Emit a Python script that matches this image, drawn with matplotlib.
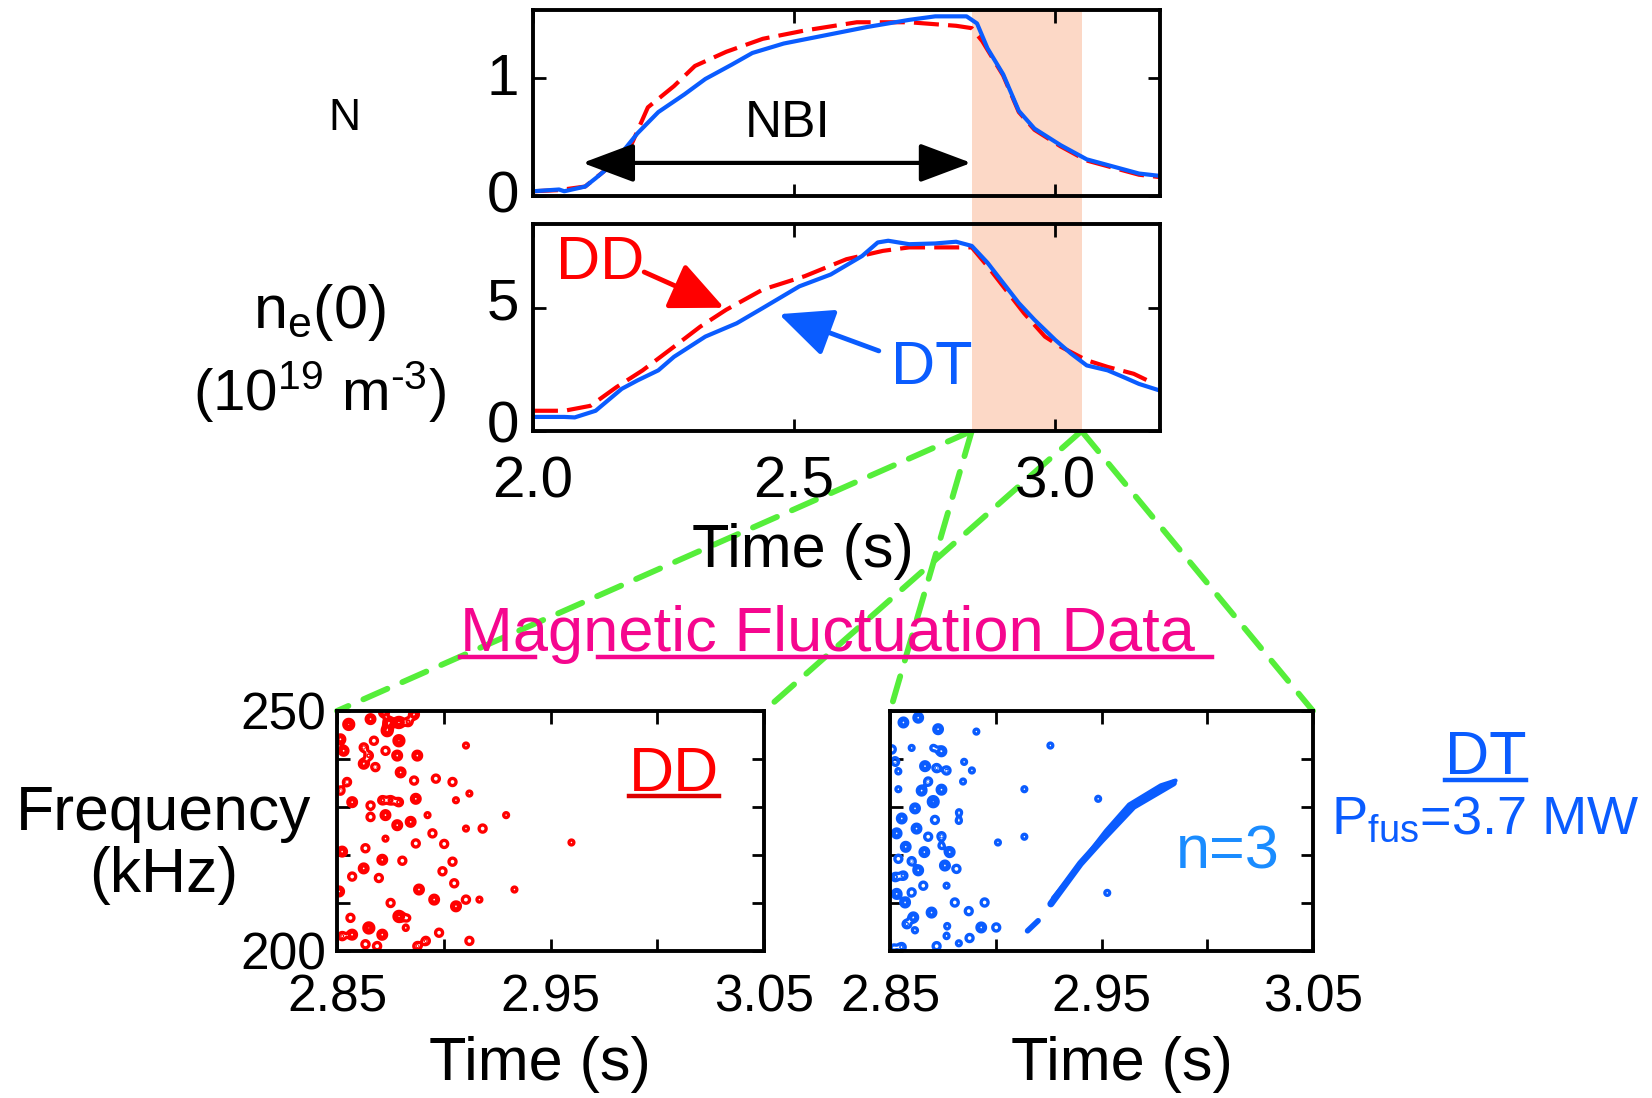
import numpy as np
import matplotlib
matplotlib.use("Agg")
import matplotlib.pyplot as plt
from matplotlib.patches import ConnectionPatch
from matplotlib.lines import Line2D
from matplotlib.transforms import ScaledTranslation

plt.rcParams['font.family'] = ['Liberation Sans', 'DejaVu Sans']
plt.rcParams['mathtext.fontset'] = 'custom'
plt.rcParams['mathtext.rm'] = 'Liberation Sans'
plt.rcParams['mathtext.it'] = 'Liberation Sans'

# ---- time traces ----
t_n_dt = [2.00, 2.05, 2.06, 2.10, 2.12, 2.15, 2.18, 2.20, 2.24, 2.29, 2.33, 2.38, 2.42, 2.48,
          2.56, 2.64, 2.72, 2.77, 2.83, 2.85, 2.87, 2.90, 2.93, 2.96, 3.01, 3.06, 3.11, 3.16, 3.20]
n_dt = [0.04, 0.055, 0.04, 0.08, 0.15, 0.26, 0.42, 0.53, 0.71, 0.86, 0.99, 1.11, 1.21, 1.29,
        1.36, 1.43, 1.49, 1.52, 1.52, 1.46, 1.25, 1.03, 0.72, 0.57, 0.43, 0.31, 0.25, 0.19, 0.17]
t_n_dd = [2.00, 2.05, 2.10, 2.15, 2.19, 2.22, 2.27, 2.31, 2.37, 2.44, 2.52, 2.62, 2.72, 2.81,
          2.84, 2.86, 2.90, 2.93, 2.96, 3.01, 3.06, 3.11, 3.16, 3.20]
n_dd = [0.04, 0.05, 0.08, 0.26, 0.45, 0.75, 0.93, 1.10, 1.22, 1.33, 1.40, 1.47, 1.47, 1.44,
        1.42, 1.31, 1.02, 0.71, 0.56, 0.42, 0.30, 0.24, 0.18, 0.16]

t_ne_dt = [2.00, 2.06, 2.08, 2.12, 2.17, 2.20, 2.24, 2.27, 2.33, 2.39, 2.44, 2.51, 2.57, 2.63,
           2.66, 2.68, 2.72, 2.77, 2.81, 2.84, 2.87, 2.90, 2.93, 2.96, 3.00, 3.03, 3.06, 3.10,
           3.13, 3.16, 3.20]
ne_dt = [0.57, 0.57, 0.55, 0.82, 1.71, 2.05, 2.46, 3.01, 3.83, 4.37, 4.99, 5.87, 6.35, 7.10,
         7.65, 7.72, 7.58, 7.61, 7.68, 7.51, 6.83, 6.01, 5.19, 4.51, 3.69, 3.14, 2.66, 2.46,
         2.19, 1.91, 1.64]
t_ne_dd = [2.00, 2.06, 2.11, 2.16, 2.21, 2.27, 2.32, 2.37, 2.44, 2.52, 2.60, 2.67, 2.72, 2.81,
           2.84, 2.87, 2.90, 2.94, 2.98, 3.01, 3.06, 3.10, 3.15, 3.19]
ne_dd = [0.82, 0.82, 1.02, 1.78, 2.46, 3.42, 4.23, 4.92, 5.74, 6.28, 6.97, 7.31, 7.45, 7.45,
         7.45, 6.69, 5.87, 4.78, 3.83, 3.42, 2.87, 2.60, 2.32, 1.91]

nbi_on, nbi_off = 2.095, 2.839
zoom_t0, zoom_t1 = 2.84, 3.05

# ---- magnetic fluctuation blobs: time (s), frequency (kHz), strength ----
dd_t = [2.8555, 2.8657, 2.8743, 2.8790, 2.8720, 2.8861, 2.8834, 2.8735, 2.8790, 2.8516,
        2.8531, 2.8625, 2.8673, 2.8649, 2.8727, 2.8782, 2.8876, 2.8625, 2.8680, 2.8798,
        2.8861, 2.8963, 2.9041, 2.8547, 2.8516, 2.8571, 2.8657, 2.8712, 2.8751, 2.8790,
        2.8869, 2.8657, 2.8727, 2.8782, 2.8845, 2.8924, 2.8947, 2.9002, 2.9182, 2.9057,
        2.9120, 2.9292, 2.9104, 2.9598, 2.8633, 2.8727, 2.8869, 2.8712, 2.8806, 2.8625,
        2.8571, 2.8696, 2.9041, 2.8994, 2.9049, 2.9057, 2.9104, 2.8884, 2.8955, 2.8751,
        2.8790, 2.8563, 2.8829, 2.8524, 2.8571, 2.8649, 2.8712, 2.8822, 2.8978, 2.8916,
        2.9120, 2.8688, 2.8633, 2.8876, 2.9167, 2.9331, 2.8510, 2.8524, 2.9104]
dd_f = [247.2, 248.3, 247.6, 247.6, 249.7, 249.3, 247.7, 245.9, 243.8, 244.1,
        241.7, 242.4, 243.8, 240.7, 241.7, 240.7, 240.7, 239.0, 238.3, 237.2,
        235.5, 235.9, 235.2, 235.2, 233.4, 231.0, 230.3, 231.4, 231.4, 231.0,
        231.7, 227.9, 228.3, 226.2, 226.9, 228.3, 224.5, 222.3, 225.5, 231.4,
        232.8, 228.3, 225.5, 222.6, 221.4, 223.4, 222.4, 219.0, 218.8, 217.2,
        215.5, 215.2, 218.6, 216.6, 214.1, 209.3, 210.7, 212.8, 210.7, 210.0,
        207.2, 206.9, 206.9, 203.1, 203.4, 204.8, 203.4, 204.8, 203.8, 202.1,
        202.1, 201.0, 201.4, 201.0, 210.7, 212.8, 212.4, 220.7, 242.8]
dd_a = [1.0, 0.75, 1.0, 1.0, 0.75, 0.75, 0.55, 1.0, 1.0, 0.75,
        0.75, 0.55, 0.55, 0.55, 0.55, 0.75, 0.75, 0.75, 0.55, 0.75,
        0.55, 0.55, 0.55, 0.55, 0.55, 0.75, 0.55, 0.55, 0.55, 0.55,
        0.75, 0.55, 0.75, 0.75, 0.75, 0.4, 0.55, 0.55, 0.55, 0.4,
        0.4, 0.4, 0.4, 0.4, 0.55, 0.4, 0.55, 0.75, 0.55, 0.75,
        0.55, 0.55, 0.55, 0.55, 0.55, 0.75, 0.55, 0.75, 0.75, 0.55,
        1.0, 0.55, 0.4, 0.55, 0.75, 1.0, 0.75, 0.4, 0.55, 0.55,
        0.55, 0.55, 0.55, 0.55, 0.4, 0.4, 0.75, 0.75, 0.4]

dt_t = [2.8563, 2.8633, 2.8727, 2.8908, 2.8508, 2.8602, 2.8704, 2.8743, 2.8524, 2.8665,
        2.8720, 2.8767, 2.8850, 2.8887, 2.8539, 2.8845, 2.8680, 2.8649, 2.8743, 2.8539,
        2.8704, 2.8618, 2.8826, 2.8825, 2.8555, 2.8712, 2.8531, 2.8625, 2.8680, 2.8743,
        2.8574, 2.8662, 2.8782, 2.8743, 2.8539, 2.8602, 2.8633, 2.8759, 2.8814, 2.8524,
        2.8563, 2.8657, 2.8767, 2.8531, 2.8602, 2.8571, 2.8806, 2.8947, 2.8696, 2.8610,
        2.8578, 2.8872, 2.8770, 2.8931, 2.9002, 2.8876, 2.8767, 2.8618, 2.8825, 2.8555,
        2.8720, 2.8516, 2.9135, 2.9258, 2.9484, 2.9135, 2.9010, 2.9527]
dt_f = [247.6, 248.6, 246.2, 245.7, 242.0, 242.3, 242.3, 241.6, 239.5, 238.5,
        238.1, 237.6, 239.4, 237.6, 237.4, 235.3, 235.3, 233.4, 233.6, 233.7,
        231.1, 229.7, 228.9, 227.1, 227.6, 227.3, 224.5, 225.5, 223.8, 223.9,
        221.7, 220.6, 220.6, 221.9, 219.2, 218.7, 216.8, 217.8, 217.1, 215.4,
        215.7, 213.6, 213.6, 211.9, 212.2, 210.1, 210.1, 210.1, 208.0, 207.0,
        205.6, 208.3, 205.2, 204.9, 204.9, 202.7, 203.1, 204.3, 201.6, 200.8,
        201.0, 200.7, 233.7, 242.8, 231.7, 223.8, 222.6, 212.1]
dt_a = [0.75, 0.75, 0.75, 0.4, 0.55, 0.4, 0.4, 0.75, 0.55, 0.75,
        0.55, 0.55, 0.4, 0.4, 0.4, 0.4, 0.55, 0.75, 0.75, 0.4,
        1.0, 0.75, 0.4, 0.4, 0.75, 0.55, 0.75, 0.75, 0.55, 0.55,
        0.75, 0.75, 0.75, 0.4, 0.55, 0.55, 0.75, 0.75, 0.55, 0.55,
        0.55, 0.55, 0.4, 0.75, 0.55, 0.75, 0.55, 0.55, 0.75, 0.75,
        0.55, 0.55, 0.4, 0.75, 0.55, 0.55, 0.4, 0.4, 0.4, 0.55,
        0.55, 0.4, 0.4, 0.4, 0.4, 0.4, 0.4, 0.4]

# n=3 chirping mode (two contour strands) and the short piece before it
chirp_t = [2.926, 2.940, 2.950, 2.965, 2.984]
chirp_f = [209.8, 218.2, 223.1, 230.1, 235.0]
chirp2_t = [2.927, 2.938, 2.952, 2.963, 2.978, 2.985]
chirp2_f = [211.0, 217.0, 225.0, 230.5, 234.5, 235.5]
pre_t = [2.915, 2.920]
pre_f = [204.2, 206.3]

RED = '#ff0000'
BLUE = '#0a5cff'
LIGHTBLUE = '#1a8cff'
MAGENTA = '#f5068e'
GREEN = '#55ee3a'
SHADE = '#fcd8c6'


def style_axes(ax, size):
    for s in ax.spines.values():
        s.set_linewidth(2.8)
    ax.tick_params(which='both', direction='in', top=True, right=True,
                   length=9, width=2, labelsize=size)


def lift_yticklabels(ax, points):
    for lab in ax.get_yticklabels():
        lab.set_transform(lab.get_transform() + ScaledTranslation(0, points / 72, fig.dpi_scale_trans))


def blob_field(tt, ff, amp):
    tg = np.linspace(2.85, 3.05, 900)
    fg = np.linspace(200, 250, 450)
    T, F = np.meshgrid(tg, fg)
    Z = np.zeros_like(T)
    for t0, f0, a in zip(tt, ff, amp):
        Z += a * np.exp(-((T - t0) / 0.0021) ** 2 - ((F - f0) / 0.95) ** 2)
    return T, F, Z


fig = plt.figure(figsize=(16.52, 10.98), dpi=100)
ax_n = fig.add_axes([0.3226, 0.8215, 0.3795, 0.169])
ax_ne = fig.add_axes([0.3226, 0.6075, 0.3795, 0.1885])
ax_dd = fig.add_axes([0.204, 0.1339, 0.2585, 0.2186])
ax_dt = fig.add_axes([0.5388, 0.1339, 0.256, 0.2186])

# ---- neutron rate ----
ax_n.axvspan(zoom_t0, zoom_t1, ymin=-0.16, ymax=1, color=SHADE, lw=0, zorder=0, clip_on=False)
ax_n.plot(t_n_dd, n_dd, color=RED, lw=3, dashes=(6, 2.2))
ax_n.plot(t_n_dt, n_dt, color=BLUE, lw=3)
ax_n.annotate('', xy=(nbi_off, 0.28), xytext=(nbi_on, 0.28),
              arrowprops=dict(arrowstyle='<|-|>,head_length=0.8,head_width=0.3',
                              mutation_scale=40, lw=3, color='k', shrinkA=0, shrinkB=0))
ax_n.text(2.487, 0.61, 'NBI', fontsize=37, ha='center', va='center')
ax_n.set_xlim(2.0, 3.2)
ax_n.set_ylim(0, 1.57)
ax_n.set_xticks([2.0, 2.5, 3.0])
ax_n.set_xticklabels([])
ax_n.set_yticks([0, 1])
style_axes(ax_n, 42)
ax_n.tick_params(axis='y', pad=10)
lift_yticklabels(ax_n, 3)

# ---- central density ----
ax_ne.axvspan(zoom_t0, zoom_t1, color=SHADE, lw=0, zorder=0)
ax_ne.plot(t_ne_dd, ne_dd, color=RED, lw=3, dashes=(6, 2.2))
ax_ne.plot(t_ne_dt, ne_dt, color=BLUE, lw=3)
ax_ne.text(2.129, 6.8, 'DD', color=RED, fontsize=44, ha='center', va='center')
ax_ne.annotate('', xy=(2.366, 5.0), xytext=(2.213, 6.45),
               arrowprops=dict(arrowstyle='-|>,head_length=1.1,head_width=0.5',
                               mutation_scale=30, lw=3.5, color=RED, shrinkA=0, shrinkB=0))
ax_ne.text(2.763, 2.52, 'DT', color=BLUE, fontsize=44, ha='center', va='center')
ax_ne.annotate('', xy=(2.471, 4.74), xytext=(2.662, 3.25),
               arrowprops=dict(arrowstyle='-|>,head_length=1.1,head_width=0.5',
                               mutation_scale=30, lw=3.5, color=BLUE, shrinkA=0, shrinkB=0))
ax_ne.set_xlim(2.0, 3.2)
ax_ne.set_ylim(0, 8.4)
ax_ne.set_xticks([2.0, 2.5, 3.0])
ax_ne.set_xticklabels(['2.0', '2.5', '3.0'])
ax_ne.set_yticks([0, 5])
style_axes(ax_ne, 42)
ax_ne.tick_params(axis='y', pad=10)
ax_ne.tick_params(axis='x', pad=18)
lift_yticklabels(ax_ne, 7)
ax_ne.set_xlabel('Time (s)', fontsize=44)
ax_ne.xaxis.set_label_coords(0.43, -0.445, transform=ax_ne.transAxes)

fig.text(0.2085, 0.8925, 'N', fontsize=32, ha='center', va='center')
fig.text(0.1933, 0.715, r'n$_{\rm e}$(0)', fontsize=44, ha='center', va='center')
fig.text(0.1933, 0.643, '(10$^{\\rm 19}$ m$^{\\rm \u20103}$)', fontsize=42,
         ha='center', va='center')

# ---- fluctuation spectrograms ----
levels = [0.3, 0.55, 0.8]
T, F, Z = blob_field(dd_t, dd_f, dd_a)
ax_dd.contour(T, F, Z, levels=levels, colors=RED, linewidths=2.4)
T, F, Z = blob_field(dt_t, dt_f, dt_a)
ax_dt.contour(T, F, Z, levels=levels, colors=BLUE, linewidths=2.4)
ax_dt.plot(chirp_t, chirp_f, color=BLUE, lw=5, solid_capstyle='round')
ax_dt.plot(chirp2_t, chirp2_f, color=BLUE, lw=3, solid_capstyle='round')
ax_dt.plot(pre_t, pre_f, color=BLUE, lw=4, solid_capstyle='round')

for ax in (ax_dd, ax_dt):
    ax.set_xlim(2.85, 3.05)
    ax.set_ylim(200, 250)
    ax.set_xticks([2.85, 2.95, 3.05])
    ax.set_xticklabels(['2.85', '2.95', '3.05'])
    ax.set_xticks([2.90, 3.00], minor=True)
    ax.set_yticks([200, 250])
    ax.set_yticks([210, 220, 230, 240], minor=True)
    style_axes(ax, 37)
    ax.tick_params(axis='x', which='both', pad=16)
    ax.tick_params(axis='y', which='both', pad=8)
    ax.set_xlabel('Time (s)', fontsize=44)
ax_dd.xaxis.set_label_coords(0.474, -0.355, transform=ax_dd.transAxes)
ax_dt.xaxis.set_label_coords(0.549, -0.355, transform=ax_dt.transAxes)
ax_dt.set_yticklabels([])

t_dd = ax_dd.text(3.008, 236.8, 'DD', color=RED, fontsize=45, ha='center', va='center')
ax_dt.text(3.0096, 220.4, 'n=3', color=LIGHTBLUE, fontsize=44, ha='center', va='center')
t_dt = fig.text(0.8993, 0.309, 'DT', color=BLUE, fontsize=44, ha='center', va='center')
fig.text(0.8993, 0.2535, r'P$_{\rm fus}$=3.7 MW', color=BLUE, fontsize=39, ha='center', va='center')
fig.text(0.0989, 0.231, 'Frequency\n(kHz)', fontsize=45, ha='center', va='center',
         linespacing=1.05)
t_mag = fig.text(0.5006, 0.4217, 'Magnetic Fluctuation Data', color=MAGENTA, fontsize=45.5,
                 ha='center', va='center')

# ---- zoom connectors ----
for t_top, ax_b, t_b in [(zoom_t0, ax_dd, 2.85), (zoom_t0, ax_dt, 2.85),
                         (zoom_t1, ax_dd, 3.05), (zoom_t1, ax_dt, 3.05)]:
    con = ConnectionPatch(xyA=(t_top, 0), coordsA=ax_ne.transData,
                          xyB=(t_b, 250), coordsB=ax_b.transData,
                          color=GREEN, lw=4.2, linestyle=(0, (4.5, 2.8)), zorder=0)
    fig.add_artist(con)

# ---- underlines ----
fig.canvas.draw()
inv = fig.transFigure.inverted()


def underline(txt, color, pieces=((0.0, 1.0),)):
    bb = txt.get_window_extent()
    px = txt.get_fontsize() * fig.dpi / 72.0
    y = bb.y0 + 0.12 * px
    for a, b in pieces:
        x0 = bb.x0 + a * bb.width
        x1 = bb.x0 + b * bb.width
        (fx0, fy), (fx1, _) = inv.transform([(x0, y), (x1, y)])
        fig.add_artist(Line2D([fx0, fx1], [fy, fy], color=color, lw=3.2))


underline(t_dd, '#dd0000')
underline(t_dt, BLUE)
underline(t_mag, MAGENTA, pieces=((0.0, 0.103), (0.188, 1.024)))

fig.savefig('out.png', dpi=100)
